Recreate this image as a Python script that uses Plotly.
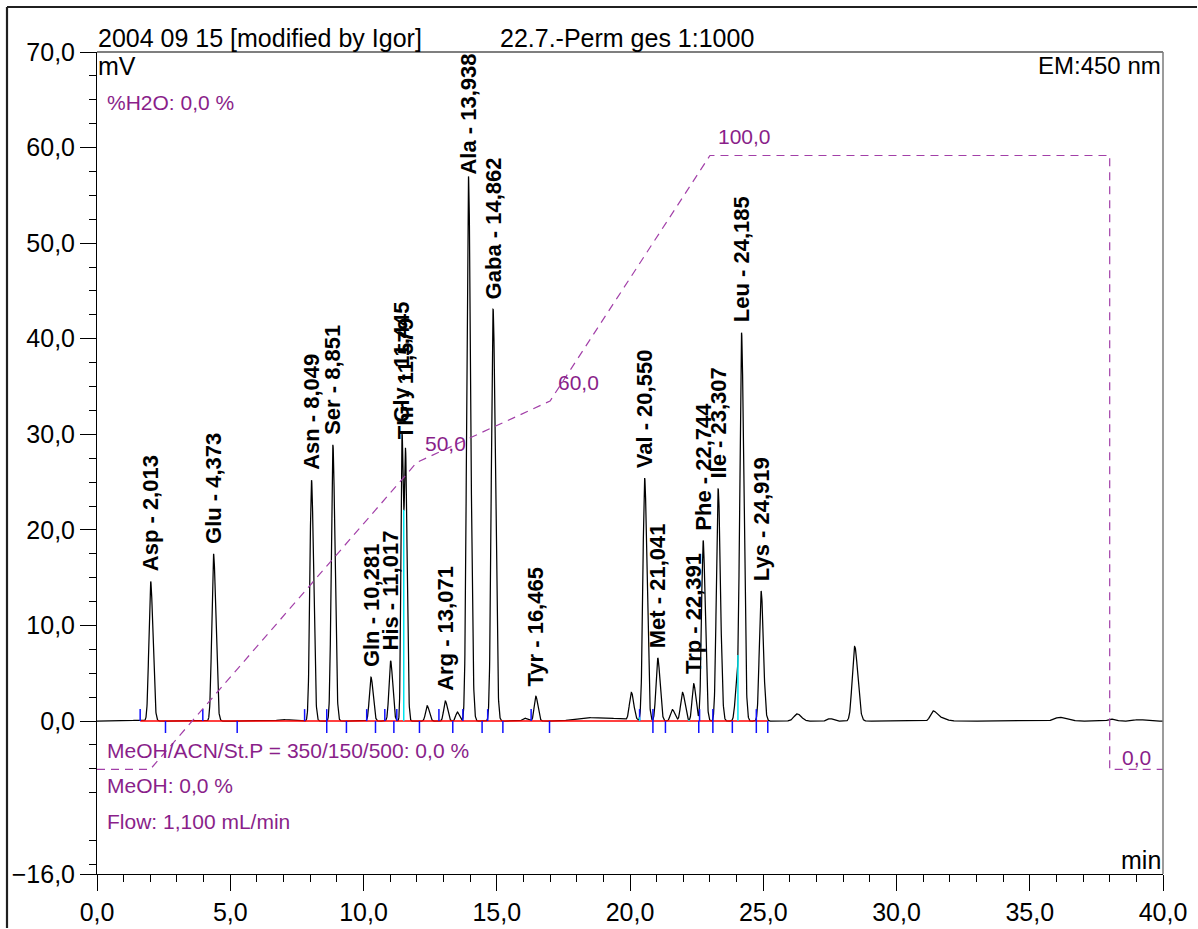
import numpy as np
import plotly.graph_objects as go

# ---------------- data ----------------
peak_names = ["Asp", "Glu", "Asn", "Ser", "Gln", "His", "Gly", "Thr", "Arg", "Ala",
              "Gaba", "Tyr", "Val", "Met", "Trp", "Phe", "Ile", "Leu", "Lys"]
peak_times = [2.013, 4.373, 8.049, 8.851, 10.281, 11.017, 11.445, 11.579, 13.071, 13.938,
              14.862, 16.465, 20.550, 21.041, 22.391, 22.744, 23.307, 24.185, 24.919]
peak_heights = [14.6, 17.5, 25.2, 28.9, 4.6, 6.3, 29.8, 27.4, 2.1, 57.0,
                43.1, 2.6, 25.4, 6.6, 3.9, 18.9, 24.3, 40.5, 13.6]
peak_widths = [0.065, 0.065, 0.06, 0.06, 0.06, 0.06, 0.04, 0.045, 0.06, 0.065,
               0.065, 0.06, 0.065, 0.065, 0.06, 0.06, 0.065, 0.065, 0.065]

minor_times = [1.47, 6.96, 12.39, 13.52, 16.05, 18.36, 19.40, 20.05, 21.59, 21.97,
               23.99, 26.27, 27.50, 28.43, 31.37, 31.65, 36.13, 38.05, 39.10]
minor_heights = [0.10, 0.15, 1.6, 0.95, 0.3, 0.35, 0.2, 2.9, 1.2, 3.0,
                 3.0, 0.75, 0.25, 7.8, 1.0, 0.35, 0.4, 0.2, 0.15]
minor_widths = [0.15, 0.2, 0.06, 0.06, 0.08, 0.45, 0.4, 0.07, 0.07, 0.07,
                0.06, 0.12, 0.1, 0.09, 0.1, 0.15, 0.2, 0.12, 0.2]

grad_times = [0.0, 2.0, 12.0, 17.0, 23.0, 38.0, 38.0, 40.0]
grad_values = [0.0, 0.0, 50.0, 60.0, 100.0, 100.0, 0.0, 0.0]
grad_label_times = [12.0, 17.0, 23.0, 38.0]
grad_label_values = [50.0, 60.0, 100.0, 0.0]

start_marks = [1.62, 3.97, 7.79, 8.62, 10.12, 10.80, 11.25, 12.83, 13.73, 14.66,
               16.29, 20.36, 20.86, 22.61, 23.11, 24.74]
end_marks = [2.57, 5.26, 8.62, 9.36, 10.45, 11.14, 12.10, 13.35, 14.45, 15.23,
             16.98, 20.86, 21.33, 22.58, 23.11, 23.84, 24.74, 25.17]
drop_times = [11.51, 20.36, 22.21, 24.05]
baseline_span = [1.62, 25.17]

y_tickvals = [-16, 0, 10, 20, 30, 40, 50, 60, 70]

# ---------------- styling constants ----------------
FONT = "Liberation Sans, Arial, sans-serif"
PURPLE_TXT = "#8a1f8a"
PURPLE_LINE = "#a23fa8"
TAIL = 1.3
TICK_MV = 1.25
LABEL_GAP = 8
LABEL_GAP_EXC = {"Ala": 0}

W, H = 1198, 929
L, R, T, B = 97, 1163, 52, 874


def pxx(x):
    return (x - L) / (R - L)


def pxy(y):
    return (B - y) / (B - T)


def peak(t, rt, h, s):
    sig = np.where(t < rt, s, s * TAIL)
    return h * np.exp(-0.5 * ((t - rt) / sig) ** 2)


t = np.linspace(0, 40, 8001)
signal = np.zeros_like(t)
for rt, h, s in zip(peak_times, peak_heights, peak_widths):
    signal += peak(t, rt, h, s)
for rt, h, s in zip(minor_times, minor_heights, minor_widths):
    signal += peak(t, rt, h, s)

fig = go.Figure()

# gradient profile (own scale, hidden axis)
fig.add_trace(go.Scatter(x=grad_times, y=grad_values, yaxis="y2", mode="lines",
                         line=dict(color=PURPLE_LINE, width=1.2, dash="8px,6px"),
                         hoverinfo="skip"))

# chromatogram
fig.add_trace(go.Scatter(x=t, y=signal, mode="lines",
                         line=dict(color="black", width=1.25)))

# integration baseline
fig.add_trace(go.Scatter(x=baseline_span, y=[0, 0], mode="lines",
                         line=dict(color="red", width=1.5)))

# integration event marks
bx, by = [], []
for m in start_marks:
    bx += [m, m, None]
    by += [0, TICK_MV, None]
for m in end_marks:
    bx += [m, m, None]
    by += [0, -TICK_MV, None]
fig.add_trace(go.Scatter(x=bx, y=by, mode="lines",
                         line=dict(color="#1010ff", width=1.5)))

# drop lines
dh = np.interp(drop_times, t, signal)
cx, cy = [], []
for m, h in zip(drop_times, dh):
    cx += [m, m, None]
    cy += [0, h, None]
fig.add_trace(go.Scatter(x=cx, y=cy, mode="lines",
                         line=dict(color="#00e5ee", width=1.5)))

annotations = []
# peak labels
for name, rt in zip(peak_names, peak_times):
    apex = float(np.interp(rt, t, signal))
    label = f"{name} - {rt:.3f}".replace(".", ",")
    annotations.append(dict(x=rt, y=apex, xref="x", yref="y", text="<b>" + label + "</b>",
                            textangle=-90, showarrow=False, xanchor="center",
                            yanchor="bottom", yshift=LABEL_GAP_EXC.get(name, LABEL_GAP),
                            font=dict(family=FONT, size=22, color="black")))

# gradient labels
g_shift = {0.0: (10, 12)}
for gt, gv in zip(grad_label_times, grad_label_values):
    xs, ys = g_shift.get(gv, (6, 19))
    annotations.append(dict(x=gt, y=gv, xref="x", yref="y2",
                            text=f"{gv:.1f}".replace(".", ","),
                            showarrow=False, xanchor="left", yanchor="middle",
                            xshift=xs, yshift=ys,
                            font=dict(family=FONT, size=21, color=PURPLE_TXT)))

# header / corner texts
annotations += [
    dict(x=pxx(96), y=pxy(37.5), text="2004 09 15 [modified by Igor]", xanchor="left",
         yanchor="middle", font=dict(family=FONT, size=25, color="black")),
    dict(x=pxx(498), y=pxy(37.5), text="22.7.-Perm ges 1:1000", xanchor="left",
         yanchor="middle", font=dict(family=FONT, size=25, color="black")),
    dict(x=pxx(96), y=pxy(66), text="mV", xanchor="left", yanchor="middle",
         font=dict(family=FONT, size=25, color="black")),
    dict(x=pxx(1163), y=pxy(65), text="EM:450 nm", xanchor="right", yanchor="middle",
         font=dict(family=FONT, size=24, color="black")),
    dict(x=pxx(1163), y=pxy(860), text="min", xanchor="right", yanchor="middle",
         font=dict(family=FONT, size=25, color="black")),
    dict(x=pxx(105), y=pxy(102), text="%H2O: 0,0 %", xanchor="left", yanchor="middle",
         font=dict(family=FONT, size=21, color=PURPLE_TXT)),
    dict(x=pxx(105), y=pxy(750), text="MeOH/ACN/St.P = 350/150/500: 0,0 %", xanchor="left",
         yanchor="middle", font=dict(family=FONT, size=21, color=PURPLE_TXT)),
    dict(x=pxx(105), y=pxy(785), text="MeOH: 0,0 %", xanchor="left", yanchor="middle",
         font=dict(family=FONT, size=21, color=PURPLE_TXT)),
    dict(x=pxx(105), y=pxy(821), text="Flow: 1,100 mL/min", xanchor="left", yanchor="middle",
         font=dict(family=FONT, size=21, color=PURPLE_TXT)),
]
for a in annotations[-9:]:
    a.update(xref="paper", yref="paper", showarrow=False)

shapes = [
    dict(type="line", xref="paper", yref="paper", x0=0, x1=1, y0=1, y1=1,
         line=dict(color="black", width=1.2)),
    dict(type="line", xref="paper", yref="paper", x0=1, x1=1, y0=0, y1=1,
         line=dict(color="#7a7a7a", width=1.5)),
    dict(type="line", xref="paper", yref="paper", x0=pxx(7), x1=pxx(1197), y0=pxy(7), y1=pxy(7),
         line=dict(color="#202020", width=2.2)),
    dict(type="line", xref="paper", yref="paper", x0=pxx(7), x1=pxx(7), y0=pxy(7), y1=pxy(928),
         line=dict(color="#202020", width=2.2)),
]

minor_y = [v for v in np.arange(-15, 70, 2.5) if v % 10 != 0]

fig.update_layout(
    width=W, height=H, autosize=False,
    margin=dict(l=L, r=W - R, t=T, b=H - B, pad=0, autoexpand=False),
    paper_bgcolor="white", plot_bgcolor="white",
    showlegend=False, separators=", ",
    font=dict(family=FONT, color="black"),
    xaxis=dict(range=[0, 40], showline=True, linecolor="black", linewidth=1,
               automargin=False,
               ticks="outside", ticklen=16, tickwidth=1, tickcolor="black",
               tickmode="linear", tick0=0, dtick=5, tickformat=".1f",
               tickfont=dict(family=FONT, size=25, color="black"),
               minor=dict(tickmode="linear", tick0=0, dtick=1, ticks="outside",
                          ticklen=7, tickwidth=1, tickcolor="black"),
               showgrid=False, zeroline=False),
    yaxis=dict(range=[-16, 70], showline=True, linecolor="black", linewidth=1,
               automargin=False,
               ticks="outside", ticklen=16, tickwidth=1, tickcolor="black",
               tickmode="array", tickvals=y_tickvals, tickformat=".1f",
               tickfont=dict(family=FONT, size=25, color="black"),
               minor=dict(tickmode="array", tickvals=minor_y, ticks="outside",
                          ticklen=7, tickwidth=1, tickcolor="black"),
               showgrid=False, zeroline=False),
    yaxis2=dict(overlaying="y", range=[-17.06, 116.86], visible=False,
                showgrid=False, zeroline=False, automargin=False),
    annotations=annotations,
    shapes=shapes,
)

fig.write_html("out.html")
